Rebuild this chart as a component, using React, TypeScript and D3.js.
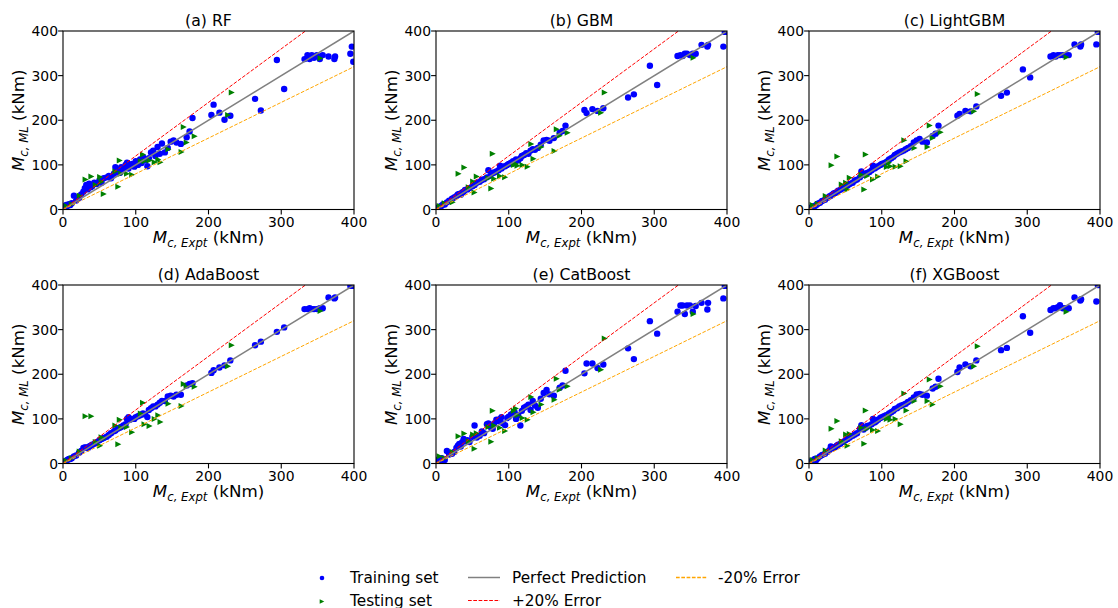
import * as d3 from "d3";

const W = 1118;
const H = 608;

// experimental moment capacity (kNm), shared across models
const xTrain = [
  2, 4, 6, 8, 10, 12, 15, 18, 22, 25, 28, 30, 32, 34, 36, 38, 40, 43, 46, 50, 53, 56, 60,
  63, 66, 70, 72, 75, 78, 80, 83, 86, 88, 90, 92, 95, 98, 100, 103, 106, 108, 110, 113, 116, 118,
  121, 124, 127, 130, 133, 136, 140, 144, 148, 152, 156, 162, 170, 174, 178,
  204, 207, 215, 222, 230, 264, 272, 294, 304, 332, 336, 339, 342, 345, 349, 353, 357, 365, 373, 374, 395, 397, 399,
];
const xTest = [
  5, 12, 23, 31, 39, 45, 51, 53, 56, 72, 76, 78, 80, 88, 95, 107, 110, 112, 119, 126, 131, 134, 145, 163, 166, 170, 181, 227, 232, 354,
];

// predicted values
const rfTrain = [
  5, 10, 8, 12, 10, 14, 31, 20, 26, 34, 40, 48, 55, 45, 58, 50, 52, 60, 57, 65, 60, 70, 72,
  75, 70, 80, 95, 88, 82, 95, 90, 100, 105, 92, 98, 102, 96, 108, 100, 112, 104, 118, 110, 97, 115,
  128, 132, 120, 140, 125, 148, 128, 138, 152, 155, 150, 147, 162, 175, 205,
  212, 235, 217, 201, 210, 248, 222, 335, 270, 337, 346, 337, 346, 340, 346, 337, 346, 343, 337, 343, 349, 365, 331,
];
const rfTest = [
  8, 12, 31, 67, 74, 55, 73, 62, 35, 85, 51, 110, 80, 80, 78, 108, 123, 108, 110, 106, 112, 106, 135, 129, 185, 150, 164, 212, 262, 339,
];

const gbmTrain = [
  3, 6, 5, 9, 12, 11, 16, 20, 24, 27, 30, 34, 35, 33, 38, 40, 44, 45, 48, 52, 55, 60, 62,
  66, 68, 72, 88, 76, 82, 83, 85, 88, 98, 92, 96, 97, 100, 102, 105, 108, 104, 112, 110, 115, 120,
  122, 126, 125, 132, 135, 134, 138, 145, 155, 156, 154, 160, 172, 176, 188,
  223, 216, 225, 221, 227, 251, 258, 322, 279, 344, 346, 344, 349, 349, 346, 349, 349, 369, 365, 369, 365, 398, 398,
];
const gbmTest = [
  8, 14, 16, 80, 94, 50, 63, 38, 74, 70, 47, 125, 69, 75, 72, 100, 102, 98, 100, 96, 147, 114, 140, 131, 180, 165, 172, 217, 262, 340,
];

const lgbTrain = [
  4, 3, 7, 8, 10, 13, 15, 19, 22, 26, 29, 31, 33, 36, 37, 39, 42, 44, 47, 51, 54, 57, 60,
  65, 67, 72, 85, 78, 80, 82, 84, 88, 98, 92, 94, 97, 100, 102, 104, 106, 108, 112, 115, 118, 122,
  125, 128, 130, 132, 135, 138, 142, 150, 155, 158, 152, 150, 165, 170, 188,
  210, 214, 221, 220, 231, 255, 262, 314, 296, 343, 346, 343, 346, 346, 346, 346, 346, 370, 365, 370, 370, 398, 398,
];
const lgbTest = [
  10, 13, 30, 99, 119, 56, 60, 45, 71, 78, 45, 123, 75, 67, 74, 95, 105, 97, 96, 97, 155, 108, 138, 140, 188, 160, 173, 220, 259, 341,
];

const adaTrain = [
  4, 6, 8, 10, 10, 12, 16, 18, 24, 28, 35, 36, 36, 34, 38, 40, 42, 44, 48, 52, 55, 57, 60,
  64, 68, 72, 74, 78, 80, 82, 85, 88, 100, 104, 98, 100, 100, 104, 106, 108, 110, 112, 110, 104, 120,
  124, 128, 128, 132, 136, 140, 140, 150, 152, 150, 154, 154, 175, 178, 180,
  203, 209, 215, 220, 231, 265, 273, 295, 305, 346, 346, 348, 346, 346, 346, 348, 348, 372, 370, 372, 398, 398, 398,
];
const adaTest = [
  6, 12, 27, 106, 106, 48, 40, 59, 56, 85, 43, 98, 80, 82, 70, 112, 136, 88, 84, 100, 108, 93, 134, 129, 178, 172, 172, 218, 265, 342,
];

const catTrain = [
  5, 10, 8, 12, 6, 8, 28, 20, 22, 26, 35, 40, 44, 38, 48, 55, 50, 52, 48, 60, 85, 58, 62,
  72, 68, 88, 90, 82, 78, 90, 98, 95, 100, 104, 90, 86, 102, 105, 110, 112, 115, 100, 108, 85, 118,
  125, 128, 132, 120, 140, 130, 125, 145, 158, 165, 155, 152, 170, 175, 208,
  202, 224, 224, 214, 222, 258, 234, 319, 291, 340, 354, 354, 335, 354, 354, 340, 353, 360, 345, 360, 370, 398, 398,
];
const catTest = [
  16, 12, 26, 61, 67, 50, 65, 33, 68, 82, 49, 118, 85, 80, 73, 118, 123, 108, 102, 98, 149, 115, 132, 143, 190, 165, 173, 210, 280, 335,
];

const xgbTrain = [
  4, 6, 7, 10, 8, 12, 16, 19, 22, 26, 30, 38, 34, 35, 37, 40, 42, 44, 48, 52, 55, 58, 62,
  65, 68, 78, 86, 76, 80, 84, 85, 88, 100, 92, 94, 98, 102, 104, 106, 108, 104, 112, 115, 118, 122,
  124, 128, 130, 132, 134, 138, 142, 148, 155, 156, 154, 152, 168, 172, 190,
  205, 215, 222, 218, 231, 254, 259, 330, 293, 344, 348, 348, 350, 355, 348, 348, 348, 372, 365, 368, 363, 400, 400,
];
const xgbTest = [
  8, 12, 29, 78, 95, 50, 65, 40, 66, 80, 44, 119, 78, 75, 73, 100, 105, 98, 100, 88, 157, 119, 140, 140, 188, 132, 173, 218, 263, 340,
];

const titles = ["(a) RF", "(b) GBM", "(c) LightGBM", "(d) AdaBoost", "(e) CatBoost", "(f) XGBoost"];
const trainSets = [rfTrain, gbmTrain, lgbTrain, adaTrain, catTrain, xgbTrain];
const testSets = [rfTest, gbmTest, lgbTest, adaTest, catTest, xgbTest];
const ticks = [0, 100, 200, 300, 400];

const colX = [63, 436, 809];
const rowY = [31, 285];
const PW = 291;
const PH = 178.5;
const FONT = "DejaVu Sans, sans-serif";
const TICK_FS = 13.9;
const LABEL_FS = 16.7;
const SUB_FS = 11.7;
const TITLE_FS = 15.7;
const LEG_FS = 15.3;

const tri = (s: number) => `M${s},0L${-s},${s}L${-s},${-s}Z`;

function Panel({ idx }: { idx: number }) {
  const ox = colX[idx % 3];
  const oy = rowY[Math.floor(idx / 3)];
  const x = d3.scaleLinear().domain([0, 400]).range([0, PW]);
  const y = d3.scaleLinear().domain([0, 400]).range([PH, 0]);
  const line = d3.line<[number, number]>().x((d) => x(d[0])).y((d) => y(d[1]));
  const train = trainSets[idx];
  const test = testSets[idx];
  const clipId = `clip${idx}`;
  return (
    <g transform={`translate(${ox},${oy})`}>
      <defs>
        <clipPath id={clipId}>
          <rect x={0} y={0} width={PW} height={PH} />
        </clipPath>
      </defs>
      <g clipPath={`url(#${clipId})`}>
        {xTrain.map((v, i) => (
          <circle key={"a" + i} cx={x(v)} cy={y(train[i])} r={3.2} fill="#0000ff" />
        ))}
        {xTest.map((v, i) => (
          <path key={"b" + i} d={tri(3)} transform={`translate(${x(v)},${y(test[i])})`} fill="#008000" />
        ))}
        <path d={line([[0, 0], [400, 400]])!} stroke="#808080" strokeWidth={1.5} fill="none" />
        <path d={line([[0, 0], [400, 480]])!} stroke="#ff0000" strokeWidth={1} strokeDasharray="3.7,1.6" fill="none" />
        <path d={line([[0, 0], [400, 320]])!} stroke="#ffa500" strokeWidth={1} strokeDasharray="3.7,1.6" fill="none" />
      </g>
      <rect x={0} y={0} width={PW} height={PH} fill="none" stroke="#000" strokeWidth={1.1} />
      {ticks.map((t) => (
        <g key={"x" + t}>
          <line x1={x(t)} x2={x(t)} y1={PH} y2={PH + 4.9} stroke="#000" strokeWidth={1.1} />
          <text x={x(t)} y={PH + 17} textAnchor="middle" fontSize={TICK_FS} fontFamily={FONT}>
            {t}
          </text>
        </g>
      ))}
      {ticks.map((t) => (
        <g key={"y" + t}>
          <line x1={-4.9} x2={0} y1={y(t)} y2={y(t)} stroke="#000" strokeWidth={1.1} />
          <text x={-5} y={y(t) + 5} textAnchor="end" fontSize={TICK_FS} fontFamily={FONT}>
            {t}
          </text>
        </g>
      ))}
      <text x={PW / 2} y={-5.5} textAnchor="middle" fontSize={TITLE_FS} fontFamily={FONT}>
        {titles[idx]}
      </text>
      <text x={PW / 2} y={PH + 33.5} textAnchor="middle" fontSize={LABEL_FS} fontFamily={FONT}>
        <tspan fontStyle="italic">M</tspan>
        <tspan fontStyle="italic" fontSize={SUB_FS} dy={3.5}>c, Expt</tspan>
        <tspan dy={-3.5}> (kNm)</tspan>
      </text>
      <text
        transform={`translate(${-39},${PH / 2}) rotate(-90)`}
        textAnchor="middle"
        fontSize={LABEL_FS}
        fontFamily={FONT}
      >
        <tspan fontStyle="italic">M</tspan>
        <tspan fontStyle="italic" fontSize={SUB_FS} dy={3.5}>c, ML</tspan>
        <tspan dy={-3.5}> (kNm)</tspan>
      </text>
    </g>
  );
}

function Legend() {
  return (
    <g fontFamily={FONT} fontSize={LEG_FS}>
      <circle cx={322} cy={578} r={2.3} fill="#0000ff" />
      <text x={350} y={582.5}>Training set</text>
      <path d={tri(2.3)} transform="translate(322,601.5)" fill="#008000" />
      <text x={350} y={605.5}>Testing set</text>
      <line x1={468} x2={500} y1={577.5} y2={577.5} stroke="#808080" strokeWidth={1.5} />
      <text x={512} y={582.5}>Perfect Prediction</text>
      <line x1={468} x2={500} y1={600.5} y2={600.5} stroke="#ff0000" strokeWidth={1.2} strokeDasharray="3.7,1.6" />
      <text x={512} y={605.5}>+20% Error</text>
      <line x1={676} x2={707} y1={577.5} y2={577.5} stroke="#ffa500" strokeWidth={1.3} strokeDasharray="3.7,1.6" />
      <text x={718} y={582.5}>-20% Error</text>
    </g>
  );
}

export default function App() {
  return (
    <svg
      width={W}
      height={H}
      style={{ position: "absolute", left: 0, top: 0, background: "#fff" }}
    >
      <rect width={W} height={H} fill="#fff" />
      {titles.map((_, i) => (
        <Panel key={i} idx={i} />
      ))}
      <Legend />
    </svg>
  );
}
